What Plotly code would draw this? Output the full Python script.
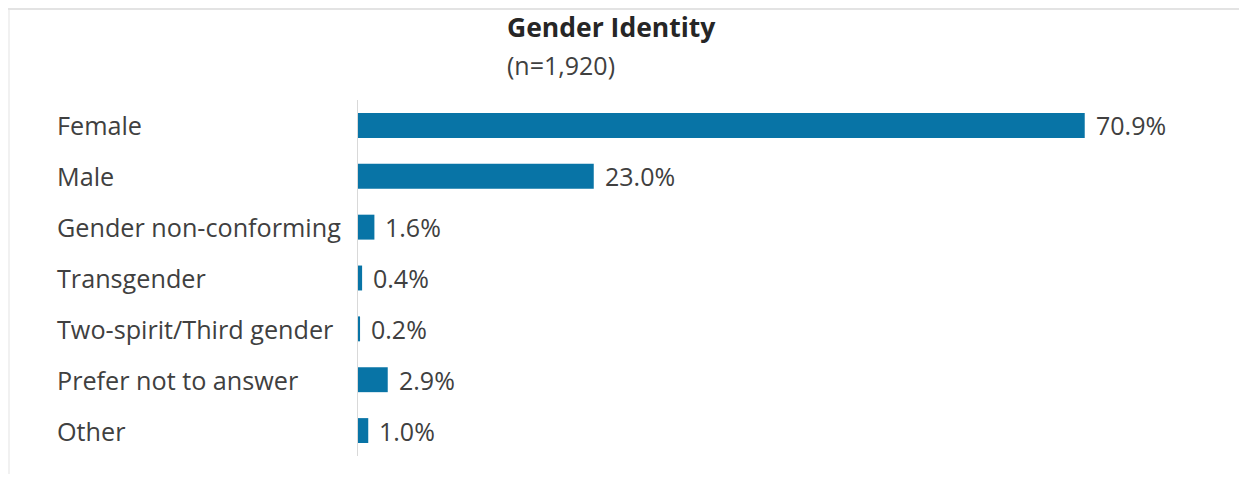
import plotly.graph_objects as go

categories = ["Female", "Male", "Gender non-conforming", "Transgender",
              "Two-spirit/Third gender", "Prefer not to answer", "Other"]
values = [70.9, 23.0, 1.6, 0.4, 0.2, 2.9, 1.0]
value_labels = ["70.9%", "23.0%", "1.6%", "0.4%", "0.2%", "2.9%", "1.0%"]
title_text = "Gender Identity"
subtitle_text = "(n=1,920)"

FONT = "Open Sans"
BAR_COLOR = "#0874A6"
TEXT_COLOR = "#404040"

# page body has an 8px margin; all target coordinates are screen coords minus 8
OFF = 8
W, H = 1231, 466
ML, MT, MB = 358 - OFF, 100 - OFF, 26 - OFF
plot_w = 820
MR = W - ML - plot_w
plot_h = H - MT - MB


def px_x(sx):
    return (sx - OFF - ML) / plot_w


def px_y(sy):
    return 1 + (MT - (sy - OFF)) / plot_h


fig = go.Figure()
fig.add_trace(go.Bar(
    x=values, y=categories, orientation="h",
    marker=dict(color=BAR_COLOR, line=dict(width=0)),
    width=0.49, hoverinfo="skip",
))

annotations = []
for c, v, t in zip(categories, values, value_labels):
    annotations.append(dict(x=v, y=c, xref="x", yref="y", text=t, showarrow=False,
                            xanchor="left", yanchor="middle", xshift=9,
                            font=dict(family=FONT, size=25, color=TEXT_COLOR)))
    annotations.append(dict(x=px_x(55), y=c, xref="paper", yref="y", text=c,
                            showarrow=False, xanchor="left", yanchor="middle",
                            font=dict(family=FONT, size=25.2, color=TEXT_COLOR)))

annotations.append(dict(x=px_x(505), y=px_y(27),
                        xref="paper", yref="paper", text="<b>" + title_text + "</b>",
                        showarrow=False, xanchor="left", yanchor="middle",
                        font=dict(family=FONT, size=26.5, color="#262626")))
annotations.append(dict(x=px_x(505), y=px_y(65),
                        xref="paper", yref="paper", text=subtitle_text,
                        showarrow=False, xanchor="left", yanchor="middle",
                        font=dict(family=FONT, size=25, color=TEXT_COLOR)))

fig.update_layout(
    width=W, height=H,
    margin=dict(l=ML, r=MR, t=MT, b=MB),
    paper_bgcolor="white", plot_bgcolor="white",
    showlegend=False,
    annotations=annotations,
    xaxis=dict(range=[0, 80], showgrid=False, zeroline=False, showticklabels=False,
               showline=False, fixedrange=True),
    yaxis=dict(categoryorder="array", categoryarray=categories[::-1],
               range=[-0.5, len(categories) - 0.5],
               showgrid=False, zeroline=False, showticklabels=False,
               showline=True, linecolor="#D9D9D9", linewidth=1, ticks=""),
    shapes=[
        dict(type="line", xref="paper", yref="paper",
             x0=px_x(8), x1=px_x(1246),
             y0=px_y(9), y1=px_y(9),
             line=dict(color="#E3E3E3", width=2)),
        dict(type="line", xref="paper", yref="paper",
             x0=px_x(9), x1=px_x(9),
             y0=px_y(9), y1=px_y(482),
             line=dict(color="#E3E3E3", width=1)),
    ],
)

fig.write_html("out.html")
